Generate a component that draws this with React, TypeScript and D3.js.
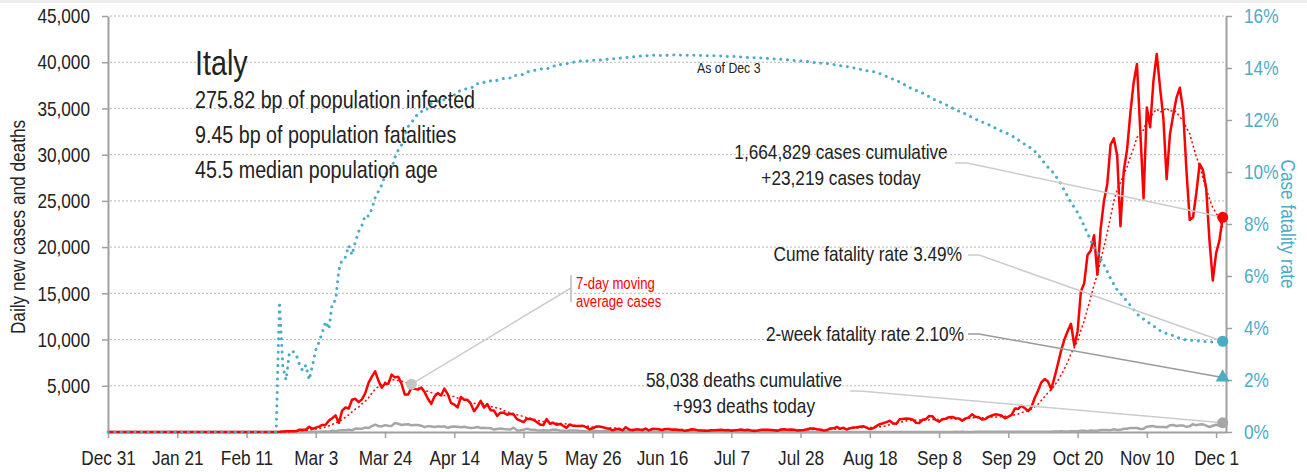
import React, { useEffect, useRef } from "react";
import * as d3 from "d3";

// no narrow face installed: use Liberation Sans squeezed horizontally
const FONT = "'Liberation Sans', Arial, sans-serif";
const SQUEEZE = 0.82;
const TEAL = "#4bacc6";
const RED = "#ff0000";
const GRAY = "#a6a6a6";
const AXIS = "#a0a0a0";
const INK = "#222";

const startDate = new Date(Date.UTC(2019, 11, 31));

// daily new cases, Dec 31 + January, then one array per month up to Dec 3
const casesJan = [0, 0, 0, 0, 0, 0, 0, 0, 0, 0, 0, 0, 0, 0, 0, 0, 0, 0, 0, 0, 0, 0, 0, 0, 0, 0, 0, 0, 0, 0, 0, 0];
const casesFeb = [0, 0, 0, 0, 0, 0, 0, 0, 0, 0, 0, 0, 0, 0, 0, 0, 0, 0, 0, 0, 20, 59, 71, 79, 93, 78, 250, 238, 240];
const casesMar = [566, 342, 466, 587, 769, 778, 1247, 1492, 1797, 977, 2313, 2651, 2547, 3497, 3590, 3233, 3526, 4207, 5322, 5986, 6557, 5560, 4789, 5249, 5210, 6203, 5909, 5974, 5217, 4050, 4053];
const casesApr = [4782, 4668, 4585, 4805, 4316, 3599, 3039, 3836, 4204, 3951, 4694, 4092, 3153, 2972, 2667, 3786, 3493, 3491, 3047, 2256, 2729, 3370, 2646, 3021, 2357, 2324, 1739, 2091, 2086, 1872];
const casesMay = [1965, 1900, 1389, 1221, 1075, 1444, 1401, 1327, 1083, 802, 744, 1402, 888, 992, 789, 875, 675, 451, 813, 665, 642, 652, 669, 531, 300, 397, 584, 593, 516, 416, 355];
const casesJun = [178, 318, 321, 177, 518, 270, 197, 280, 283, 202, 379, 163, 346, 338, 301, 210, 329, 333, 251, 262, 224, 218, 122, 190, 296, 259, 175, 174, 126, 142];
const casesJul = [182, 201, 223, 235, 192, 208, 138, 193, 229, 276, 188, 234, 169, 114, 162, 230, 233, 249, 219, 190, 129, 282, 306, 252, 275, 255, 170, 181, 212, 289, 386];
const casesAug = [379, 295, 239, 159, 190, 384, 402, 552, 347, 463, 259, 412, 481, 523, 574, 629, 479, 320, 403, 642, 845, 947, 1071, 1210, 953, 878, 1367, 1411, 1462, 1444, 1365];
const casesSep = [996, 978, 1326, 1397, 1733, 1695, 1297, 1108, 1370, 1434, 1597, 1616, 1501, 1456, 1229, 1452, 1585, 1907, 1638, 1587, 1350, 1392, 1640, 1786, 1912, 1869, 1766, 1494, 1648, 1851];
const casesOct = [2548, 2499, 2844, 2578, 2257, 2677, 3678, 4458, 5372, 5724, 5456, 4619, 5901, 7332, 8804, 10010, 10925, 11705, 9338, 10874, 15199, 16079, 19143, 19644, 21273, 17012, 21994, 24991, 26831, 31084, 31758];
const casesNov = [29907, 22253, 28244, 30550, 34505, 37809, 39811, 32616, 25271, 35098, 32961, 37978, 40902, 37255, 33979, 27354, 32191, 34283, 36176, 37242, 34767, 28337, 22930, 23232, 25853, 29003, 28352, 26323, 20648, 16377];
const casesDec = [19350, 20709, 23219];

// daily new deaths, same layout
const deathsJan = [0, 0, 0, 0, 0, 0, 0, 0, 0, 0, 0, 0, 0, 0, 0, 0, 0, 0, 0, 0, 0, 0, 0, 0, 0, 0, 0, 0, 0, 0, 0, 0];
const deathsFeb = [0, 0, 0, 0, 0, 0, 0, 0, 0, 0, 0, 0, 0, 0, 0, 0, 0, 0, 0, 0, 1, 1, 1, 4, 3, 2, 5, 4, 8];
const deathsMar = [5, 18, 27, 28, 41, 49, 36, 133, 97, 168, 196, 189, 250, 175, 368, 349, 345, 475, 427, 627, 793, 651, 601, 743, 683, 662, 969, 889, 756, 812, 837];
const deathsApr = [727, 760, 766, 681, 525, 636, 604, 542, 610, 570, 619, 431, 566, 602, 578, 525, 575, 482, 433, 454, 534, 437, 464, 420, 415, 260, 333, 382, 323, 285];
const deathsMay = [269, 474, 174, 195, 236, 369, 274, 243, 194, 165, 179, 172, 195, 262, 242, 153, 145, 99, 162, 161, 156, 130, 119, 50, 92, 78, 117, 70, 87, 111, 75];
const deathsJun = [60, 55, 71, 88, 85, 72, 53, 65, 79, 71, 53, 56, 78, 44, 26, 34, 43, 66, 47, 49, 24, 23, 18, 30, 34, 30, 8, 22, 6, 23];
const deathsJul = [30, 21, 15, 21, 7, 8, 30, 15, 12, 12, 7, 7, 13, 17, 20, 11, 13, 12, 3, 9, 15, 17, 9, 10, 5, 5, 5, 11, 11, 6, 3];
const deathsAug = [5, 8, 5, 12, 10, 6, 3, 13, 4, 6, 2, 6, 6, 3, 9, 4, 7, 4, 6, 5, 9, 3, 5, 7, 4, 13, 5, 9, 9, 4, 4];
const deathsSep = [6, 10, 10, 10, 11, 10, 8, 10, 10, 10, 10, 6, 14, 9, 14, 9, 10, 10, 14, 18, 17, 14, 20, 20, 24, 24, 17, 16, 24, 19];
const deathsOct = [24, 23, 27, 18, 16, 28, 31, 22, 28, 29, 26, 39, 41, 43, 83, 55, 47, 69, 73, 89, 127, 136, 91, 151, 128, 141, 221, 205, 217, 199, 297];
const deathsNov = [208, 233, 353, 352, 445, 446, 425, 331, 356, 580, 623, 636, 550, 544, 546, 504, 731, 753, 653, 699, 692, 562, 630, 853, 722, 822, 827, 686, 541, 672];
const deathsDec = [785, 684, 993];

// headline numbers
const country = "Italy";
const infectedBp = 275.82;
const fatalitiesBp = 9.45;
const medianAge = 45.5;
const cumCases = 1664829;
const todayCases = 23219;
const cumDeaths = 58038;
const todayDeaths = 993;
const cumFatalityRate = 3.49;
const twoWeekFatalityRate = 2.1;
const maNoteDate = new Date(Date.UTC(2020, 3, 1));

const cases = [...casesJan, ...casesFeb, ...casesMar, ...casesApr, ...casesMay, ...casesJun, ...casesJul, ...casesAug, ...casesSep, ...casesOct, ...casesNov, ...casesDec];
const deaths = [...deathsJan, ...deathsFeb, ...deathsMar, ...deathsApr, ...deathsMay, ...deathsJun, ...deathsJul, ...deathsAug, ...deathsSep, ...deathsOct, ...deathsNov, ...deathsDec];

type Row = { date: Date; cases: number; deaths: number; ma: number; cfr: number };

export default function App() {
  const svgRef = useRef<SVGSVGElement>(null);

  useEffect(() => {
    const svg = d3.select(svgRef.current);
    svg.selectAll("*").remove();

    // build rows: 7-day trailing average and cumulative fatality rate
    let cc = 0;
    let cd = 0;
    const rows: Row[] = cases.map((c, i) => {
      cc += c;
      cd += deaths[i];
      return {
        date: d3.utcDay.offset(startDate, i),
        cases: c,
        deaths: deaths[i],
        ma: d3.mean(cases.slice(Math.max(0, i - 6), i + 1)) as number,
        cfr: cc > 0 ? cd / cc : 0,
      };
    });

    const x = d3
      .scaleUtc()
      .domain([startDate, d3.utcDay.offset(startDate, 339)])
      .range([108, 1226]);
    const yL = d3.scaleLinear().domain([0, 45000]).range([432, 16]);
    const yR = d3.scaleLinear().domain([0, 0.16]).range([432, 16]);

    svg.append("rect").attr("width", 1307).attr("height", 472).attr("fill", "#fff");
    svg.append("rect").attr("width", 1307).attr("height", 3).attr("fill", "#eeeeee");

    // gridlines
    svg
      .append("g")
      .selectAll("line")
      .data(d3.range(5000, 45001, 5000))
      .join("line")
      .attr("x1", 110)
      .attr("x2", 1224)
      .attr("y1", (d) => yL(d))
      .attr("y2", (d) => yL(d))
      .attr("stroke", "#b8b8b8")
      .attr("stroke-width", 1)
      .attr("stroke-dasharray", "2,2");

    // axes
    const tickDates = d3.range(0, 337, 21).map((i) => d3.utcDay.offset(startDate, i));
    const fmtDate = d3.utcFormat("%b %-d");
    const gx = svg
      .append("g")
      .attr("transform", "translate(0,432)")
      .call(
        d3
          .axisBottom(x)
          .tickValues(tickDates)
          .tickFormat((d) => fmtDate(d as Date))
          .tickSize(6)
          .tickSizeOuter(0)
          .tickPadding(12)
      );
    const gl = svg
      .append("g")
      .attr("transform", "translate(108,0)")
      .call(
        d3
          .axisLeft(yL)
          .tickValues(d3.range(5000, 45001, 5000))
          .tickFormat(d3.format(","))
          .tickSize(6)
          .tickSizeOuter(0)
          .tickPadding(12)
      );
    const gr = svg
      .append("g")
      .attr("transform", "translate(1226,0)")
      .call(
        d3
          .axisRight(yR)
          .tickValues([0, 2, 4, 6, 8, 10, 12, 14, 16].map((v) => v / 100))
          .tickFormat(d3.format(".0%"))
          .tickSize(6)
          .tickSizeOuter(0)
          .tickPadding(12)
      );
    [gx, gl, gr].forEach((g) => {
      g.attr("font-family", FONT).attr("font-size", 21);
      g.select(".domain").attr("stroke", AXIS).attr("stroke-width", 2);
      g.selectAll(".tick line").attr("stroke", AXIS).attr("stroke-width", 1.5);
      g.selectAll<SVGTextElement, unknown>("text")
        .attr("fill", INK)
        .attr("x", function () {
          return +(this.getAttribute("x") || 0) / SQUEEZE;
        })
        .attr("transform", `scale(${SQUEEZE},1)`);
    });
    gr.selectAll("text").attr("fill", TEAL);

    // axis titles
    svg
      .append("text")
      .attr("transform", `translate(25,227) rotate(-90) scale(${SQUEEZE},1)`)
      .attr("text-anchor", "middle")
      .attr("font-family", FONT)
      .attr("font-size", 21)
      .attr("fill", INK)
      .text("Daily new cases and deaths");
    svg
      .append("text")
      .attr("transform", `translate(1281,224) rotate(90) scale(${SQUEEZE},1)`)
      .attr("text-anchor", "middle")
      .attr("font-family", FONT)
      .attr("font-size", 21)
      .attr("fill", TEAL)
      .text("Case fatality rate");

    // series
    const lineOf = (y: (d: Row) => number) =>
      d3
        .line<Row>()
        .x((d) => x(d.date))
        .y(y);

    svg
      .append("path")
      .datum(rows)
      .attr("d", lineOf((d) => yL(d.deaths)))
      .attr("fill", "none")
      .attr("stroke", GRAY)
      .attr("stroke-width", 2.5)
      .attr("stroke-linejoin", "round");

    svg
      .append("path")
      .datum(rows)
      .attr("d", lineOf((d) => yL(d.cases)))
      .attr("fill", "none")
      .attr("stroke", RED)
      .attr("stroke-width", 2.5)
      .attr("stroke-linejoin", "round");

    svg
      .append("path")
      .datum(rows)
      .attr("d", lineOf((d) => yL(d.ma)))
      .attr("fill", "none")
      .attr("stroke", RED)
      .attr("stroke-width", 1.5)
      .attr("stroke-dasharray", "2,2.5");

    svg
      .append("path")
      .datum(rows)
      .attr("d", lineOf((d) => yR(d.cfr)))
      .attr("fill", "none")
      .attr("stroke", TEAL)
      .attr("stroke-width", 3)
      .attr("stroke-linecap", "round")
      .attr("stroke-dasharray", "0.1,6.6");

    // annotation leaders
    const last = rows[rows.length - 1];
    const ex = x(last.date);
    const leader = d3.line();
    const leaders: [Array<[number, number]>, string][] = [
      [[[955, 163], [967, 163], [ex, yL(todayCases)]], "#cccccc"],
      [[[968, 255], [979, 255], [ex, yR(cumFatalityRate / 100)]], "#cccccc"],
      [[[968, 334], [979, 334], [ex, yR(twoWeekFatalityRate / 100)]], "#9a9a9a"],
      [[[850, 391], [860, 391], [ex, yL(todayDeaths)]], "#cccccc"],
    ];
    const maRow = rows[d3.utcDay.count(startDate, maNoteDate)];
    leaders.push([[[x(maRow.date), yL(maRow.ma)], [571, 288]], "#cccccc"]);
    leaders.push([[[571, 275], [571, 302]], "#bbbbbb"]);
    svg
      .append("g")
      .selectAll("path")
      .data(leaders)
      .join("path")
      .attr("d", (d) => leader(d[0]))
      .attr("fill", "none")
      .attr("stroke", (d) => d[1])
      .attr("stroke-width", 1.5);

    // markers
    svg.append("circle").attr("cx", x(maRow.date)).attr("cy", yL(maRow.ma)).attr("r", 5.5).attr("fill", "#c4c4c4");
    svg.append("circle").attr("cx", ex).attr("cy", yL(todayCases)).attr("r", 5.5).attr("fill", RED);
    svg.append("circle").attr("cx", ex).attr("cy", yR(cumFatalityRate / 100)).attr("r", 5.5).attr("fill", TEAL);
    svg
      .append("path")
      .attr("d", d3.symbol(d3.symbolTriangle, 85)())
      .attr("transform", `translate(${ex},${yR(twoWeekFatalityRate / 100)})`)
      .attr("fill", TEAL);
    svg.append("circle").attr("cx", ex).attr("cy", yL(todayDeaths)).attr("r", 5.5).attr("fill", GRAY);

    // texts
    const fmt = d3.format(",");
    const texts: { t: string; x: number; y: number; size: number; anchor: string; fill?: string }[] = [
      { t: country, x: 195, y: 75, size: 35, anchor: "start" },
      { t: `${infectedBp} bp of population infected`, x: 195, y: 108, size: 24, anchor: "start" },
      { t: `${fatalitiesBp} bp of population fatalities`, x: 195, y: 143, size: 24, anchor: "start" },
      { t: `${medianAge} median population age`, x: 195, y: 178, size: 24, anchor: "start" },
      { t: "As of Dec 3", x: 697, y: 73, size: 15, anchor: "start" },
      { t: `${fmt(cumCases)} cases cumulative`, x: 841, y: 159, size: 21, anchor: "middle" },
      { t: `+${fmt(todayCases)} cases today`, x: 841, y: 185, size: 21, anchor: "middle" },
      { t: `Cume fatality rate ${cumFatalityRate.toFixed(2)}%`, x: 962, y: 261, size: 21, anchor: "end" },
      { t: `2-week fatality rate ${twoWeekFatalityRate.toFixed(2)}%`, x: 964, y: 341, size: 21, anchor: "end" },
      { t: `${fmt(cumDeaths)} deaths cumulative`, x: 744, y: 387, size: 21, anchor: "middle" },
      { t: `+${fmt(todayDeaths)} deaths today`, x: 744, y: 413, size: 21, anchor: "middle" },
      { t: "7-day moving", x: 576, y: 289, size: 16, anchor: "start", fill: RED },
      { t: "average cases", x: 576, y: 307, size: 16, anchor: "start", fill: RED },
    ];
    svg
      .append("g")
      .selectAll("text")
      .data(texts)
      .join("text")
      .attr("transform", (d) => `translate(${d.x},${d.y}) scale(${SQUEEZE},1)`)
      .attr("text-anchor", (d) => d.anchor)
      .attr("font-family", FONT)
      .attr("font-size", (d) => d.size)
      .attr("fill", (d) => d.fill ?? INK)
      .text((d) => d.t);
  }, []);

  return (
    <svg
      ref={svgRef}
      width={1307}
      height={472}
      style={{ position: "absolute", left: 0, top: 0, display: "block" }}
    />
  );
}
